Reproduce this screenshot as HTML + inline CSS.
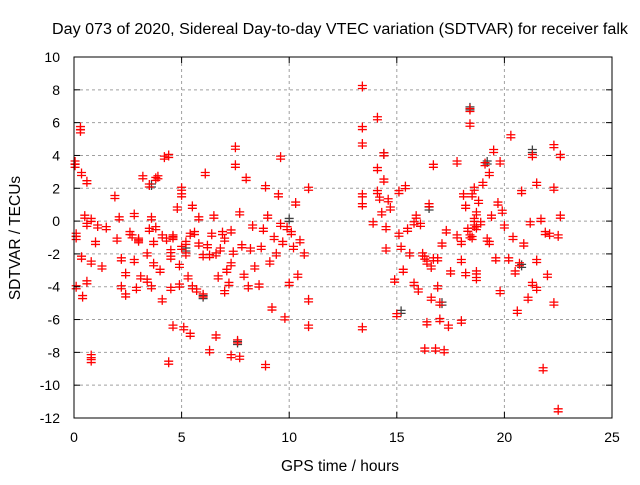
<!DOCTYPE html>
<html><head><meta charset="utf-8"><style>
body{margin:0;background:#fff}
svg text{font-family:"Liberation Sans",sans-serif;font-size:14px;fill:#000}
</style></head><body>
<svg id="chart" width="640" height="480" xmlns="http://www.w3.org/2000/svg">
<rect width="640" height="480" fill="#fff"/>
<g id="grid"></g>
<g id="marks"></g>
<g id="axes"></g>
<text x="52" y="34" textLength="576" lengthAdjust="spacingAndGlyphs" style="font-size:15.5px">Day 073 of 2020, Sidereal Day-to-day VTEC variation (SDTVAR) for receiver falk</text>
<text x="340" y="471" text-anchor="middle" style="font-size:15.5px">GPS time / hours</text>
<text transform="translate(20,238) rotate(-90)" text-anchor="middle" style="font-size:15.5px">SDTVAR / TECUs</text>
</svg>
<script>
const xTicks=[0,5,10,15,20,25];
const yTicks=[10,8,6,4,2,0,-2,-4,-6,-8,-10,-12];
const redX=[0.05,0.05,0.1,0.1,0.1,0.3,0.3,0.35,0.35,0.4,0.5,0.6,0.6,0.6,0.8,0.8,0.8,0.8,1.0,1.1,1.3,1.5,1.9,2.0,2.1,2.2,2.2,2.4,2.4,2.6,2.7,2.8,2.8,2.9,3.0,3.0,3.1,3.2,3.4,3.4,3.5,3.5,3.6,3.6,3.7,3.7,3.8,3.8,3.9,4.0,4.1,4.1,4.2,4.3,4.4,4.4,4.5,4.5,4.5,4.6,4.6,4.6,4.8,4.9,4.9,5.0,5.0,5.0,5.1,5.2,5.2,5.3,5.4,5.4,5.5,5.5,5.6,5.7,5.8,5.8,6.0,6.0,6.1,6.2,6.3,6.3,6.4,6.5,6.6,6.6,6.7,6.8,6.9,7.0,7.0,7.1,7.2,7.3,7.3,7.3,7.4,7.5,7.5,7.6,7.7,7.7,7.8,7.9,8.0,8.1,8.2,8.3,8.4,8.6,8.7,8.8,8.9,8.9,9.0,9.1,9.2,9.3,9.4,9.5,9.6,9.6,9.7,9.8,9.9,10.0,10.1,10.2,10.3,10.4,10.5,10.7,10.9,10.9,10.9,
13.4,13.4,13.4,13.4,13.4,13.4,13.9,14.1,14.1,14.1,14.2,14.3,14.4,14.4,14.5,14.5,14.6,14.7,14.9,15.0,15.1,15.1,15.2,15.3,15.4,15.5,15.6,15.8,15.8,15.9,16.0,16.1,16.2,16.3,16.3,16.4,16.4,16.5,16.6,16.6,16.7,16.7,16.8,16.9,16.9,17.0,17.0,17.1,17.2,17.3,17.4,17.5,17.8,17.8,18.0,18.0,18.0,18.1,18.2,18.2,18.3,18.4,18.4,18.4,18.5,18.5,18.6,18.6,18.6,18.7,18.7,18.7,18.7,18.8,18.9,19.0,19.1,19.2,19.3,19.3,19.4,19.5,19.6,19.7,19.8,19.8,19.9,20.0,20.2,20.3,20.4,20.5,20.6,20.7,20.8,20.9,21.1,21.2,21.3,21.3,21.5,21.5,21.5,21.7,21.8,21.9,22.0,22.1,22.3,22.3,22.3,22.5,22.5,22.6,22.6];
const redY=[3.6,3.4,-0.8,-1.0,-4.0,5.7,5.5,2.9,-2.2,-4.6,0.3,2.4,-0.2,-3.7,-8.2,-8.5,-2.5,0.1,-1.3,-0.3,-2.8,-0.4,1.5,-1.1,0.2,-2.3,-4.0,-4.5,-3.2,-0.7,-0.9,-2.4,0.4,-4.1,-1.2,-1.1,-3.4,2.7,-3.6,-2.0,-0.5,2.2,0.2,-4.0,-1.3,-2.6,-0.4,2.6,2.7,-3.0,-4.8,-0.9,3.9,-1.1,4.0,-8.6,-2.2,-1.8,-4.1,-1.0,-0.9,-6.4,0.8,-2.7,-3.9,2.0,1.6,-1.6,-6.5,-1.3,-2.0,-3.4,-6.9,-0.8,0.9,-4.0,-0.7,-4.2,-1.4,0.2,-4.5,-2.1,2.9,-1.5,-2.1,-7.9,-0.8,0.3,-7.0,-2.0,-3.4,-1.7,-0.7,-4.3,-1.1,-3.0,-3.8,-8.2,-2.6,-0.6,-1.9,3.4,4.5,-7.3,-8.3,0.5,-1.5,-3.3,2.6,-4.0,-1.7,-0.3,-2.8,-3.9,-1.6,-0.5,2.1,-8.8,0.3,-2.5,-5.3,-1.0,-2.0,1.6,3.9,-0.2,-1.3,-5.9,-0.4,-3.8,-0.7,-1.6,1.1,-3.3,-1.2,-2.0,2.0,-4.8,-6.4,
8.2,5.7,4.7,1.6,1.0,-6.5,-0.1,6.3,3.2,1.8,1.4,0.5,4.1,2.5,-0.4,-1.7,1.3,0.8,-3.6,-5.7,-0.8,1.8,-1.6,-3.0,2.1,-0.5,-2.0,-3.8,-0.1,0.3,-4.2,-0.2,-2.0,-7.8,-2.2,-6.2,-2.5,1.0,-4.7,-2.8,3.4,-2.3,-7.8,-2.3,-4.0,-5.0,-6.0,-1.4,-7.9,-0.6,-6.4,-3.1,3.6,-0.9,-6.1,-1.3,-2.4,1.6,0.9,-3.2,-0.5,6.8,5.9,-0.9,1.6,-1.0,0.1,-0.3,2.0,-0.4,0.5,-3.1,-3.5,1.2,-0.1,2.3,3.5,-1.1,2.9,-1.3,0.3,4.3,-2.3,1.1,3.6,-4.3,0.6,-0.3,-2.3,5.2,-1.0,-3.1,-5.5,-2.6,1.8,-1.4,-4.7,-0.1,4.0,-3.8,-2.4,2.3,-4.1,0.1,-9.0,-0.7,-3.3,-0.8,4.6,2.0,-5.0,-0.9,-11.5,4.0,0.3];
const greyX=[3.6,5.2,6.0,7.6,10.0,14.4,15.2,16.5,17.1,18.4,19.2,20.8,21.3];
const greyY=[2.2,-1.7,-4.6,-7.4,0.1,4.1,-5.5,0.8,-5.0,6.9,3.6,-2.7,4.3];
const L=74,R=612,T=57,B=418;
const xs=v=>L+(v-0)/25*(R-L);
const ys=v=>T+(10-v)/22*(B-T);
const NS="http://www.w3.org/2000/svg";
function mk(tag,attrs,parent){const e=document.createElementNS(NS,tag);for(const k in attrs)e.setAttribute(k,attrs[k]);parent.appendChild(e);return e;}
const grid=document.getElementById('grid'),axes=document.getElementById('axes'),marks=document.getElementById('marks');
xTicks.forEach(t=>{const x=xs(t);
 if(t>0&&t<25){const g=mk('line',{x1:x,x2:x,y1:T,y2:B,stroke:'#a0a0a0','stroke-dasharray':'3,3'},grid);
 
 }
 mk('line',{x1:x,x2:x,y1:B,y2:B-6,stroke:'#000'},axes);
 mk('line',{x1:x,x2:x,y1:T,y2:T+6,stroke:'#000'},axes);
 const lb=mk('text',{x:x,y:B+24,'text-anchor':'middle'},axes);lb.textContent=t;
 
 
});
yTicks.forEach(t=>{const y=ys(t);
 if(t<10&&t>-12){const g=mk('line',{x1:L,x2:R,y1:y,y2:y,stroke:'#a0a0a0','stroke-dasharray':'3,3'},grid);
 
 }
 mk('line',{x1:L,x2:L+6,y1:y,y2:y,stroke:'#000'},axes);
 mk('line',{x1:R,x2:R-6,y1:y,y2:y,stroke:'#000'},axes);
 const lb=mk('text',{x:L-14,y:y+5,'text-anchor':'end'},axes);lb.textContent=t;
 
 
});
mk('rect',{x:L,y:T,width:R-L,height:B-T,fill:'none',stroke:'#000','stroke-width':1},axes);
function cross(x,y,c,name){const p=mk('path',{d:`M${x-4.5},${y-1}h9M${x},${y-5}v10M${x-4.5},${y+2}h9`,stroke:c,'stroke-width':1.3,fill:'none'},marks);
 
 }
greyX.forEach((v,i)=>cross(xs(v),ys(greyY[i]),'#404040','grey-point'));
redX.forEach((v,i)=>cross(xs(v),ys(redY[i]),'#ff0000','red-point'));
</script>
</body></html>
